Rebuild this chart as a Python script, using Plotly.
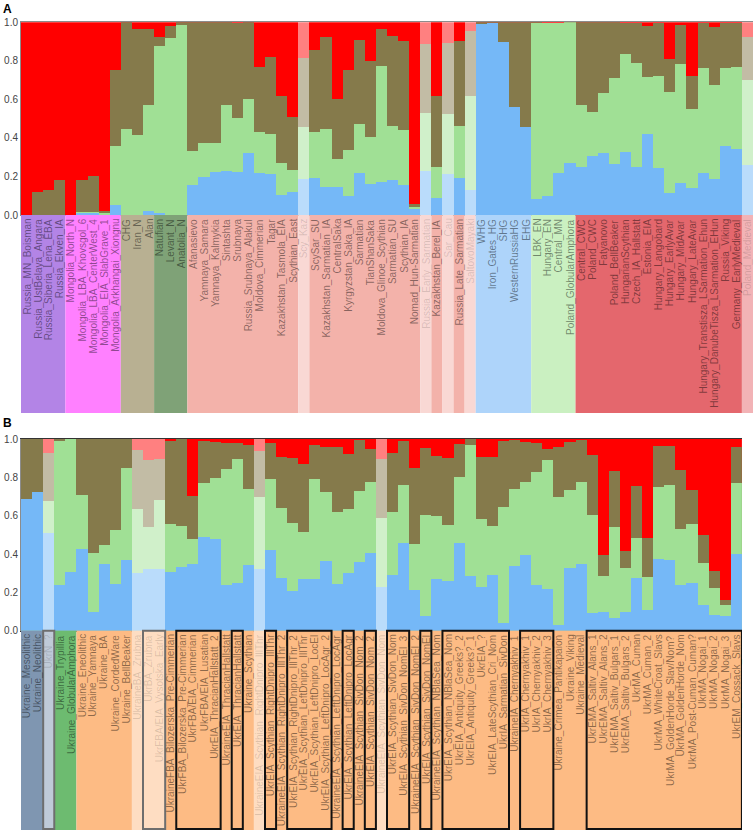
import plotly.graph_objects as go

# ---------------- panel A ----------------
A_labels = ["Russia_MN_Boisman", "Russia_UstBelaya_Angara", "Russia_Siberia_Lena_EBA", "Russia_Ekven_IA",
            "Mongolia_North_N", "Mongolia_LBA_Khovsgol_6", "Mongolia_LBA_CenterWest_4", "Mongolia_EIA_SlabGrave_1",
            "Mongolia_Arkhangai_Xiongnu", "CHG", "Iran_N", "Alan", "Natufian", "Levant_N", "Anatolia_N",
            "Afanasievo", "Yamnaya_Samara", "Yamnaya_Kalmykia", "Sintashta", "Srubnaya", "Russia_Srubnaya_Alakul",
            "Moldova_Cimmerian", "Tagar", "Kazakhstan_Tasmola_EIA", "Scythian_East", "Scy_Kaz", "ScySar_SU",
            "Kazakhstan_Sarmatian_IA", "CentralSaka", "Kyrgyzstan_Saka_IA", "Sarmatian", "TianShanSaka",
            "Moldova_Glinoe_Scythian", "Sarmatian_SU", "Scythian_IA", "Nomad_Hun-Sarmatian", "Russia_Early_Sarmatian",
            "Kazakhstan_Berel_IA", "Sar_Cau", "Russia_Late_Sarmatian", "SaltovoMayaki", "WHG", "Iron_Gates_HG", "SHG",
            "WesternRussiaHG", "EHG", "LBK_EN", "Hungary_EN", "Central_MN", "Poland_GlobularAmphora", "Central_CWC",
            "Poland_CWC", "Fatyanovo", "Poland_BellBeaker", "HungarianScythian", "Czech_IA_Hallstatt", "Estonia_EIA",
            "Hungary_Langobard", "Hungary_EarlyAvar", "Hungary_MidAvar", "Hungary_LateAvar",
            "Hungary_Transtisza_LSarmation_Ehun", "Hungary_DanubeTisza_LSarmation_EHun", "Russia_Viking",
            "Germany_EarlyMedieval", "Poland_Medieval"]

# cumulative proportions (top of blue, top of green, top of olive; red fills up to 1)
A_blue = [0, 0, 0, 0, 0, 0.005, 0.005, 0, 0.05, 0, 0, 0.02, 0.005, 0, 0,
          0.152, 0.197, 0.221, 0.225, 0.221, 0.321, 0.216, 0.212, 0.102, 0.117, 0.183, 0.192, 0.143, 0.145, 0.097,
          0.218, 0.157, 0.169, 0.178, 0.154, 0.03, 0.226, 0.086, 0.212, 0.188, 0.128,
          0.99, 0.995, 0.896, 0.56, 0.456, 0.08, 0.097, 0.214, 0.266,
          0.245, 0.307, 0.318, 0.264, 0.326, 0.247, 0.418, 0.24, 0.114, 0.162, 0.14, 0.218, 0.183, 0.356, 0.339, 0.259]
A_green = [0, 0, 0, 0, 0, 0.015, 0.015, 0.005, 0.354, 0.445, 0.416, 0.567, 0.877, 0.919, 0.983,
           0.33, 0.37, 0.37, 0.567, 0.5, 0.598, 0.428, 0.42, 0.266, 0.233, 0.454, 0.428, 0.447, 0.287, 0.335,
           0.473, 0.402, 0.774, 0.459, 0.439, 0.04, 0.528, 0.247, 0.525, 0.459, 0.618,
           0.99, 0.995, 0.896, 0.56, 0.456, 0.995, 0.995, 0.995, 1.0,
           0.57, 0.534, 0.629, 0.712, 0.836, 0.788, 0.715, 0.722, 0.637, 0.784, 0.546, 0.763, 0.674, 0.762, 0.769, 0.698]
A_olive = [0, 0.12, 0.13, 0.18, 0, 0.18, 0.2, 0.02, 0.75, 1.0, 0.964, 0.964, 0.92, 0.977, 1.0,
           1.0, 1.0, 1.0, 1.0, 0.995, 1.0, 0.765, 0.819, 0.615, 0.506, 0.813, 0.853, 0.92, 0.603, 0.753,
           0.908, 0.8, 0.965, 0.926, 0.9, 0.055, 0.888, 0.618, 0.891, 0.9, 0.952,
           1.0, 1.0, 1.0, 1.0, 1.0, 1.0, 0.995, 0.995, 1.0,
           1.0, 1.0, 1.0, 1.0, 0.995, 0.995, 0.978, 0.995, 0.81, 0.986, 0.722, 0.995, 0.972, 0.995, 0.995, 0.924]
A_faded = [25, 36, 38, 40, 65]
A_groups = [("purple", 4), ("magenta", 5), ("tan", 3), ("dkgreen", 3), ("salmon", 26),
            ("blue", 5), ("lgreen", 4), ("red", 16)]

# ---------------- panel B ----------------
B_labels = ["Ukraine_Mesolithic", "Ukraine_Neolithic", "UkrN_?", "Ukraine_Trypillia", "Ukraine_GlobularAmphora",
            "Ukraine_Eneolithic", "Ukraine_Yamnaya", "Ukraine_BA", "Ukraine_CordedWare", "Ukraine_BellBeaker",
            "UkraineBA_Zrubna", "UkrBA_Zrubna", "UkrFBA/EIA_Vysotska_Early", "UkraineFBA_Bilozerska_Pre-Cimmerian",
            "UkrFBA_Bilozerska_Pre-Cimmerian", "UkrFBA/EIA_Cimmerian", "UkrFBA/EIA_Lusatian",
            "UkrEIA_ThracianHallstatt_2", "UkraineEIA_ThracianHallstatt", "UkrEIA_ThracianHallstatt",
            "Ukraine_Scythian", "UkraineEIA_Scythian_RightDnipro_IllThr", "UkrEIA_Scythian_RightDnipro_IllThr",
            "UkraineEIA_Scythian_RightDnipro_IllThr_2", "UkrEIA_Scythian_RightDnipro_IllThr_2",
            "UkrEIA_Scythian_LeftDnipro_IllThr", "UkrEIA_Scythian_LeftDnipro_LocEl",
            "UkrEIA_Scythian_LeftDnipro_LocAgr_2", "UkraineEIA_Scythian_LeftDnipro_LocAgr",
            "UkrEIA_Scythian_LeftDnipro_LocAgr", "UkraineEIA_Scythian_SivDon_Nom_2", "UkrEIA_Scythian_SivDon_Nom_2",
            "UkraineEIA_Scythian_SivDon_Nom", "UkrEIA_Scythian_SivDon_Nom", "UkrEIA_Scythian_SivDon_NomEl_3",
            "UkraineEIA_Scythian_SivDon_NomEl_2", "UkrEIA_Scythian_SivDon_NomEl", "UkraineEIA_Scythian_NBlaSea_Nom",
            "UkrEIA_Scythian_NBlaSea_Nom", "UkrEIA_Antiquity_Greeks?_2", "UkrEIA_Antiquity_Greeks?_1", "UkrEIA_?",
            "UkrEIA_LateScythian_Cri_Nom", "UkrIA_Sarmatian_SivDon", "UkraineIA_Chernyakhiv_1",
            "UkrIA_Chernyakhiv_1", "UkrIA_Chernyakhiv_2", "UkrIA_Chernyakhiv_3", "Ukraine_Crimea_Pantikapaion",
            "Ukraine_Viking", "Ukraine_Medieval", "UkrEMA_Saltiv_Alans_1", "UkrEMA_Saltiv_Alans_2",
            "UkrEMA_Saltiv_Bulgars_1", "UkrEMA_Saltiv_Bulgars_2", "UkrMA_Cuman", "UkrMA_Cuman_2",
            "UkrMA_WhiteCroat_Slavs", "UkrMA_GoldenHorde_Slav/Nom?", "UkrMA_GoldenHorde_Nom",
            "UkrMA_Post-Cuman_Cuman?", "UkrMA_Nogai_1", "UkrMA_Nogai_2", "UkrMA_Nogai_3", "UkrEM_Cossack_Slavs"]
B_blue = [0.687, 0.722, 0.511, 0.238, 0.306, 0.424, 0.1, 0.348, 0.243, 0.369,
          0.303, 0.32, 0.32, 0.306, 0.334, 0.348, 0.487, 0.478, 0.237, 0.249,
          0.344, 0.322, 0.419, 0.273, 0.207, 0.268, 0.268, 0.363, 0.242, 0.299,
          0.357, 0.407, 0.226, 0.29, 0.456, 0.212, 0.075, 0.268, 0.257, 0.456,
          0.285, 0.23, 0.29, 0.04, 0.339, 0.393, 0.238, 0.219, 0.03, 0.329,
          0.346, 0.092, 0.1, 0.066, 0.1, 0.275, 0.11, 0.372, 0.369, 0.238,
          0.247, 0.132, 0.084, 0.075, 0.4]
B_green = [0.687, 0.722, 0.677, 0.99, 1.0, 0.708, 0.407, 0.445, 0.525, 0.85,
           0.633, 0.543, 0.682, 0.557, 0.546, 0.48, 0.769, 0.797, 0.845, 0.894,
           0.737, 0.699, 0.79, 0.638, 0.56, 0.517, 0.79, 0.723, 0.617, 0.635,
           0.729, 0.774, 0.59, 0.617, 0.762, 0.452, 0.603, 0.598, 0.551, 0.803,
           0.969, 0.581, 0.546, 0.647, 0.739, 0.777, 0.83, 0.89, 0.697, 0.734,
           0.774, 0.605, 0.285, 0.539, 0.329, 0.483, 0.282, 0.75, 0.762, 0.529,
           0.557, 0.355, 0.224, 0.136, 0.772]
B_olive = [1.0, 1.0, 0.925, 1.0, 1.0, 1.0, 1.0, 1.0, 1.0, 1.0,
           0.943, 0.89, 0.896, 0.991, 1.0, 0.704, 0.991, 0.984, 0.981, 0.977,
           0.969, 0.939, 0.977, 0.908, 0.903, 0.868, 0.969, 0.96, 0.957, 0.92,
           0.995, 0.948, 0.894, 0.925, 0.991, 0.847, 0.953, 0.911, 0.903, 0.974,
           1.0, 0.908, 0.904, 0.99, 0.995, 0.983, 0.977, 0.946, 0.96, 0.984,
           0.995, 0.917, 0.395, 0.833, 0.416, 0.755, 0.483, 0.963, 0.963, 0.838,
           0.736, 0.499, 0.313, 0.162, 0.96]
B_faded = [2, 10, 11, 12, 21, 32]
B_groups = [("steel", 3), ("green", 2), ("orange", 60)]
B_boxes = [(2, 2), (11, 12), (14, 17), (19, 19), (22, 22), (24, 27), (29, 29), (31, 31),
           (33, 34), (36, 36), (38, 43), (45, 47), (51, 64)]

# ---------------- styling ----------------
W, H = 755, 833
comp_colors = {"red": "#ff0000", "olive": "#857a4b", "green": "#a0e095", "blue": "#75b8f7"}
band_colors = {"purple": "#b384e6", "magenta": "#ff80ff", "tan": "#b8b092", "dkgreen": "#7fa277",
               "salmon": "#f3b2aa", "blue": "#aed4fa", "lgreen": "#caf0c1", "red": "#e4676d",
               "steel": "#7f96b1", "green": "#6dbb70", "orange": "#fdbb84"}


def lighten(c, f=0.5):
    c = c.lstrip("#")
    rgb = [int(c[k:k + 2], 16) for k in (0, 2, 4)]
    return "#%02x%02x%02x" % tuple(int(round(v + (255 - v) * f)) for v in rgb)


def py(px):  # pixel row -> paper y
    return 1 - px / H


A_dom = [py(215), py(22.3)]
B_dom = [py(630.7), py(439)]
A_band = (py(215), py(413))
B_band = (py(630.7), py(830))

fig = go.Figure()
shapes, annos = [], []


def panel(labels, blue, green, olive, faded, groups, xa, ya, band):
    n = len(labels)
    xs = list(range(n))
    tops = [("red", [1.0] * n), ("olive", olive), ("green", green), ("blue", blue)]
    for name, vals in tops:
        cols = [lighten(comp_colors[name]) if i in faded else comp_colors[name] for i in xs]
        fig.add_trace(go.Bar(x=xs, y=vals, marker=dict(color=cols, line=dict(width=0)),
                             xaxis=xa, yaxis=ya, showlegend=False, hoverinfo="skip"))
    # label band colours
    gcol = []
    for g, cnt in groups:
        gcol += [band_colors[g]] * cnt
    cols = [lighten(gcol[i], 0.5) if i in faded else gcol[i] for i in xs]
    start = 0
    for i in range(1, n + 1):
        if i == n or cols[i] != cols[start]:
            shapes.append(dict(type="rect", xref=xa, yref="paper", x0=start - 0.5, x1=i - 0.5,
                               y0=band[1], y1=band[0], fillcolor=cols[start], line=dict(width=0), layer="above"))
            start = i
    for i, lab in enumerate(labels):
        annos.append(dict(x=i, y=band[0] - 2 / H, xref=xa, yref="paper", text=lab, textangle=-90,
                          showarrow=False, xanchor="center", yanchor="top",
                          font=dict(family="Liberation Sans, Arial", size=10,
                                    color="rgba(0,0,0,0.14)" if i in faded else "rgba(0,0,0,0.45)")))


panel(A_labels, A_blue, A_green, A_olive, A_faded, A_groups, "x", "y", A_band)
panel(B_labels, B_blue, B_green, B_olive, B_faded, B_groups, "x2", "y2", B_band)

for s, e in B_boxes:
    faded_box = s in B_faded
    shapes.append(dict(type="rect", xref="x2", yref="paper", x0=s - 0.5, x1=e + 0.5,
                       y0=B_band[1] + 1 / H, y1=B_band[0], fillcolor="rgba(0,0,0,0)",
                       line=dict(color="#6e6e6e" if faded_box else "#111111", width=2), layer="above"))

annos.append(dict(x=-20 / 732, y=py(0), xref="paper", yref="paper", text="<b>A</b>", showarrow=False,
                  xanchor="left", yanchor="top", font=dict(family="Liberation Sans, Arial", size=12, color="#000")))
annos.append(dict(x=-20 / 732, y=py(414), xref="paper", yref="paper", text="<b>B</b>", showarrow=False,
                  xanchor="left", yanchor="top", font=dict(family="Liberation Sans, Arial", size=12, color="#000")))

yax = dict(range=[0, 1], tickvals=[0, 0.2, 0.4, 0.6, 0.8, 1.0], tickformat=".1f", showgrid=False,
           zeroline=False, showline=True, linecolor="#8c8c8c", linewidth=1, ticks="", automargin=False,
           tickfont=dict(family="Liberation Sans, Arial", size=10, color="#444"))
fig.update_layout(
    width=W, height=H, margin=dict(l=21, r=2, t=0, b=0, autoexpand=False),
    paper_bgcolor="white", plot_bgcolor="white",
    barmode="overlay", bargap=0,
    xaxis=dict(domain=[0, 1], range=[-0.5, 65.5], anchor="y", showticklabels=False, showgrid=False,
               zeroline=False, showline=True, mirror=True, linecolor="#8c8c8c", linewidth=1, automargin=False),
    yaxis=dict(domain=A_dom, anchor="x", **yax),
    xaxis2=dict(domain=[0, 65 / 66], range=[-0.5, 64.5], anchor="y2", showticklabels=False, showgrid=False,
                zeroline=False, showline=True, mirror=True, linecolor="#333333", linewidth=1, automargin=False),
    yaxis2=dict(domain=B_dom, anchor="x2", **yax),
    shapes=shapes, annotations=annos,
)

# the page's default body margin would shift the figure by 8px
fig.write_html("out.html", config={"displayModeBar": False},
               post_script="document.body.style.margin='0px';")
